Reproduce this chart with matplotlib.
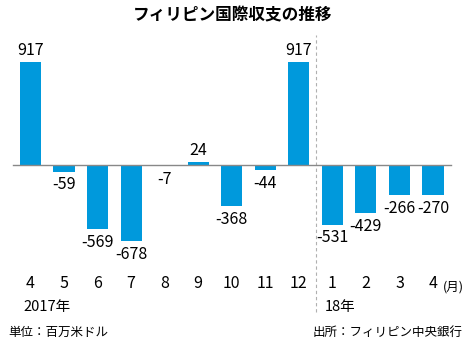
import matplotlib
matplotlib.use("Agg")
import matplotlib.pyplot as plt

plt.rcParams['font.family'] = ['Noto Sans CJK JP', 'DejaVu Sans']

# data (百万米ドル)
months = ['4', '5', '6', '7', '8', '9', '10', '11', '12', '1', '2', '3', '4']
values = [917, -59, -569, -678, -7, 24, -368, -44, 917, -531, -429, -266, -270]
years = ['2017年', '18年']
year_start = [0, 9]

title = 'フィリピン国際収支の推移'
unit_note = '単位：百万米ドル'
source_note = '出所：フィリピン中央銀行'

bar_color = '#0099dc'

fig = plt.figure(figsize=(4.65, 3.61), dpi=100)
ax = fig.add_axes([0, 0, 1, 1])
ax.axis('off')

# pixel mapping: bar i centre at 30.5 + 33.54*i px, zero at y=165 px
px_per_bar = 33.54
px_per_unit = 0.1123
ax.set_xlim(-30.5 / px_per_bar, (465 - 30.5) / px_per_bar)
ax.set_ylim(-(361 - 165) / px_per_unit, 165 / px_per_unit)

x = list(range(len(values)))
ax.bar(x, values, width=0.63, color=bar_color, zorder=2)

# zero line
ax.plot([-0.52, 12.54], [0, 0], color='#888888', lw=1.0, zorder=3)

# year split line
ax.axvline(8.5, ymin=1 - 312 / 361, ymax=1 - 35 / 361,
           color='#b0b0b0', lw=0.8, ls=(0, (3, 2.5)), zorder=1)

for xi, v in zip(x, values):
    if v >= 0:
        ax.annotate(str(v), (xi, v), xytext=(0, 2.5), textcoords='offset points',
                    ha='center', va='bottom', fontsize=11.5)
    else:
        ax.annotate(str(v), (xi, v), xytext=(0, -3.5), textcoords='offset points',
                    ha='center', va='top', fontsize=11.5)

tr = ax.get_xaxis_transform()
for xi, m in zip(x, months):
    ax.text(xi, 1 - 284 / 361, m, transform=tr, ha='center', va='center', fontsize=11.5)
ax.text((464 - 30.5) / px_per_bar, 1 - 287 / 361, '(月)', transform=tr,
        ha='right', va='center', fontsize=9)

for xs, yl in zip(year_start, years):
    ax.text(xs - 0.22, 1 - 307 / 361, yl, transform=tr, ha='left', va='center', fontsize=10.5)

fig.text(0.5, 1 - 15 / 361, title, ha='center', va='center', fontsize=12, fontweight='bold')
fig.text(8 / 465, 1 - 332 / 361, unit_note, ha='left', va='center', fontsize=9)
fig.text(463 / 465, 1 - 332 / 361, source_note, ha='right', va='center', fontsize=9)

fig.savefig('out.png', dpi=100)
